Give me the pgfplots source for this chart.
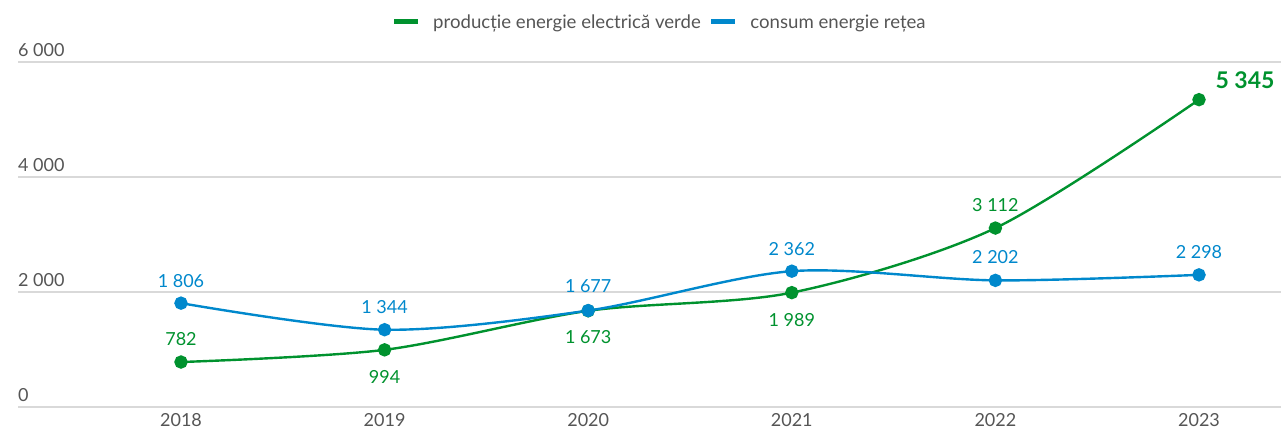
\documentclass[border=0pt]{standalone}
\usepackage{pgfplots}
\pgfplotsset{compat=1.18}
\usepackage{pgfplotstable}
\usepackage{fontspec}
\setmainfont{Lato}
\definecolor{cgreen}{RGB}{0,146,46}
\definecolor{cblue}{RGB}{0,136,204}
\definecolor{cgrid}{RGB}{217,217,217}
\definecolor{ctext}{RGB}{85,85,85}
\pgfplotstableread[col sep=comma]{
x,y,lab,dy
0,782,782,23
1,994,994,-27
2,1673,1 673,-26
3,1989,1 989,-27
4,3112,3 112,23
5,5345,,0
}\green
\pgfplotstableread[col sep=comma]{
x,y,lab,dy
0,1806,1 806,22
1,1344,1 344,23
2,1677,1 677,24
3,2362,2 362,22
4,2202,2 202,23
5,2298,2 298,23
}\blue
\begin{document}
\begin{tikzpicture}
\useasboundingbox (-18pt,-28pt) rectangle (1263pt,407pt);
\begin{axis}[
  at={(0pt,0pt)}, anchor=south west,
  scale only axis, width=1263pt, height=345pt,
  xmin=-0.8006, xmax=5.4028, ymin=0, ymax=6000,
  axis line style={draw=none}, tick style={draw=none},
  ymajorgrids, grid style={line width=1.6pt, color=cgrid},
  ytick={0,2000,4000,6000}, yticklabels={0,2 000,4 000,6 000},
  yticklabel style={anchor=base west, inner sep=0pt, yshift=5pt, xshift=0pt, font=\fontsize{18}{20}\selectfont, text=ctext},
  xtick={0,1,2,3,4,5}, xticklabels={2018,2019,2020,2021,2022,2023},
  xticklabel style={anchor=base, inner sep=0pt, yshift=-20pt, font=\fontsize{18}{20}\selectfont, text=ctext},
  legend style={at={(0.508,1.116)}, anchor=center, draw=none, fill=none,
    font=\fontsize{18.6}{20}\selectfont, text=ctext,
    /tikz/every even column/.append style={column sep=6pt}},
  legend columns=-1,
  legend image code/.code={\draw[line width=5pt] (0pt,0pt) -- (24pt,0pt); \path (36pt,0pt);},
  clip=false,
]
\addplot[cgreen, line width=2.4pt, smooth, tension=0.5, mark=*, mark size=5.5pt,
  mark options={solid, fill=cgreen, draw=cgreen},
  point meta=explicit symbolic, nodes near coords,
  visualization depends on={\thisrow{dy} \as \dy},
  every node near coord/.append style={anchor=center, yshift=\dy pt, text=cgreen, font=\fontsize{18}{20}\selectfont}]
  table[x=x, y=y, meta=lab] {\green};
\addlegendentry{producție energie electrică verde}
\addplot[cblue, line width=2.4pt, smooth, tension=0.5, mark=*, mark size=5.5pt,
  mark options={solid, fill=cblue, draw=cblue},
  point meta=explicit symbolic, nodes near coords,
  visualization depends on={\thisrow{dy} \as \dy},
  every node near coord/.append style={anchor=center, yshift=\dy pt, text=cblue, font=\fontsize{18}{20}\selectfont}]
  table[x=x, y=y, meta=lab] {\blue};
\addlegendentry{consum energie rețea}
\addplot[draw=none, mark=none, forget plot,
  nodes near coords={\textbf{5 345}},
  every node near coord/.append style={anchor=center, xshift=46pt, yshift=19pt, text=cgreen, font=\fontsize{23}{26}\selectfont}]
  coordinates {(5,5345)};
\end{axis}
\end{tikzpicture}
\end{document}
